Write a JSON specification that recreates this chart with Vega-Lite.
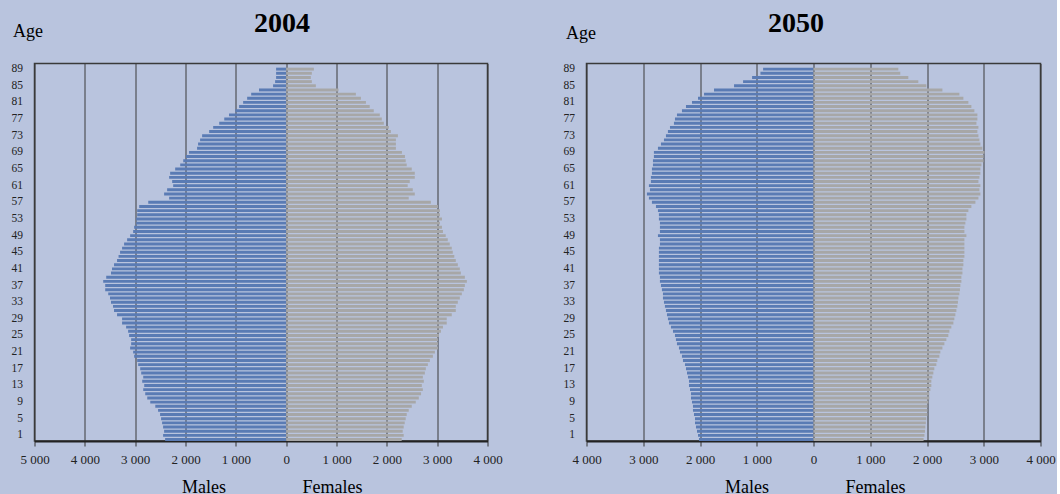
{
"$schema": "https://vega.github.io/schema/vega-lite/v6.json",
"background": "#b9c4de",
"padding": {"left": 9.5, "top": 7.5, "right": 0, "bottom": 0},
"autosize": {"type": "pad"},
"config": {
 "font": "Liberation Serif",
 "view": {"stroke": "#3a3a3a", "strokeWidth": 1.5},
 "axisY": {"titleAngle": 0, "titleX": -22, "titleY": -27.5, "titleAlign": "left", "titleBaseline": "alphabetic", "titleFontSize": 18, "titleFontWeight": "normal", "titleColor": "#000", "labelExpr": "(datum.value - 1) % 4 == 0 ? datum.value : ''", "labelFontSize": 11.5, "labelColor": "#222", "ticks": false, "domain": false, "labelPadding": 12, "labelOverlap": false, "grid": false},
 "axisX": {"grid": true, "gridColor": "#3a3a3a", "gridWidth": 1, "gridOpacity": 1, "domainColor": "#222", "domainWidth": 2, "tickColor": "#333", "tickSize": 5, "labelFontSize": 13, "labelColor": "#222", "labelPadding": 7, "labelFlush": false, "labelOverlap": false, "titleAlign": "left", "titleBaseline": "alphabetic", "titleFontSize": 18, "titleFontWeight": "normal", "titleColor": "#000", "titleY": 51.5, "labelExpr": "replace(format(abs(datum.value), ','), ',', ' ')"}
},
"datasets": {"pop": [
{"year":2004,"age":0,"sex":"Males","pop":-2405},{"year":2004,"age":1,"sex":"Males","pop":-2445},{"year":2004,"age":2,"sex":"Males","pop":-2425},{"year":2004,"age":3,"sex":"Males","pop":-2445},{"year":2004,"age":4,"sex":"Males","pop":-2465},{"year":2004,"age":5,"sex":"Males","pop":-2485},{"year":2004,"age":6,"sex":"Males","pop":-2505},{"year":2004,"age":7,"sex":"Males","pop":-2545},{"year":2004,"age":8,"sex":"Males","pop":-2600},{"year":2004,"age":9,"sex":"Males","pop":-2700},
{"year":2004,"age":10,"sex":"Males","pop":-2760},{"year":2004,"age":11,"sex":"Males","pop":-2800},{"year":2004,"age":12,"sex":"Males","pop":-2840},{"year":2004,"age":13,"sex":"Males","pop":-2820},{"year":2004,"age":14,"sex":"Males","pop":-2860},{"year":2004,"age":15,"sex":"Males","pop":-2840},{"year":2004,"age":16,"sex":"Males","pop":-2880},{"year":2004,"age":17,"sex":"Males","pop":-2900},{"year":2004,"age":18,"sex":"Males","pop":-2940},{"year":2004,"age":19,"sex":"Males","pop":-2960},
{"year":2004,"age":20,"sex":"Males","pop":-3020},{"year":2004,"age":21,"sex":"Males","pop":-3040},{"year":2004,"age":22,"sex":"Males","pop":-3100},{"year":2004,"age":23,"sex":"Males","pop":-3080},{"year":2004,"age":24,"sex":"Males","pop":-3080},{"year":2004,"age":25,"sex":"Males","pop":-3120},{"year":2004,"age":26,"sex":"Males","pop":-3140},{"year":2004,"age":27,"sex":"Males","pop":-3180},{"year":2004,"age":28,"sex":"Males","pop":-3260},{"year":2004,"age":29,"sex":"Males","pop":-3260},
{"year":2004,"age":30,"sex":"Males","pop":-3360},{"year":2004,"age":31,"sex":"Males","pop":-3420},{"year":2004,"age":32,"sex":"Males","pop":-3440},{"year":2004,"age":33,"sex":"Males","pop":-3480},{"year":2004,"age":34,"sex":"Males","pop":-3500},{"year":2004,"age":35,"sex":"Males","pop":-3535},{"year":2004,"age":36,"sex":"Males","pop":-3595},{"year":2004,"age":37,"sex":"Males","pop":-3595},{"year":2004,"age":38,"sex":"Males","pop":-3635},{"year":2004,"age":39,"sex":"Males","pop":-3575},
{"year":2004,"age":40,"sex":"Males","pop":-3480},{"year":2004,"age":41,"sex":"Males","pop":-3460},{"year":2004,"age":42,"sex":"Males","pop":-3420},{"year":2004,"age":43,"sex":"Males","pop":-3360},{"year":2004,"age":44,"sex":"Males","pop":-3330},{"year":2004,"age":45,"sex":"Males","pop":-3300},{"year":2004,"age":46,"sex":"Males","pop":-3260},{"year":2004,"age":47,"sex":"Males","pop":-3220},{"year":2004,"age":48,"sex":"Males","pop":-3160},{"year":2004,"age":49,"sex":"Males","pop":-3100},
{"year":2004,"age":50,"sex":"Males","pop":-3040},{"year":2004,"age":51,"sex":"Males","pop":-3020},{"year":2004,"age":52,"sex":"Males","pop":-2980},{"year":2004,"age":53,"sex":"Males","pop":-2980},{"year":2004,"age":54,"sex":"Males","pop":-2960},{"year":2004,"age":55,"sex":"Males","pop":-2960},{"year":2004,"age":56,"sex":"Males","pop":-2920},{"year":2004,"age":57,"sex":"Males","pop":-2740},{"year":2004,"age":58,"sex":"Males","pop":-2325},{"year":2004,"age":59,"sex":"Males","pop":-2425},
{"year":2004,"age":60,"sex":"Males","pop":-2365},{"year":2004,"age":61,"sex":"Males","pop":-2245},{"year":2004,"age":62,"sex":"Males","pop":-2265},{"year":2004,"age":63,"sex":"Males","pop":-2325},{"year":2004,"age":64,"sex":"Males","pop":-2305},{"year":2004,"age":65,"sex":"Males","pop":-2205},{"year":2004,"age":66,"sex":"Males","pop":-2105},{"year":2004,"age":67,"sex":"Males","pop":-2045},{"year":2004,"age":68,"sex":"Males","pop":-1990},{"year":2004,"age":69,"sex":"Males","pop":-1930},
{"year":2004,"age":70,"sex":"Males","pop":-1770},{"year":2004,"age":71,"sex":"Males","pop":-1750},{"year":2004,"age":72,"sex":"Males","pop":-1710},{"year":2004,"age":73,"sex":"Males","pop":-1670},{"year":2004,"age":74,"sex":"Males","pop":-1530},{"year":2004,"age":75,"sex":"Males","pop":-1450},{"year":2004,"age":76,"sex":"Males","pop":-1330},{"year":2004,"age":77,"sex":"Males","pop":-1230},{"year":2004,"age":78,"sex":"Males","pop":-1135},{"year":2004,"age":79,"sex":"Males","pop":-1010},
{"year":2004,"age":80,"sex":"Males","pop":-935},{"year":2004,"age":81,"sex":"Males","pop":-855},{"year":2004,"age":82,"sex":"Males","pop":-775},{"year":2004,"age":83,"sex":"Males","pop":-695},{"year":2004,"age":84,"sex":"Males","pop":-540},{"year":2004,"age":85,"sex":"Males","pop":-260},{"year":2004,"age":86,"sex":"Males","pop":-220},{"year":2004,"age":87,"sex":"Males","pop":-200},{"year":2004,"age":88,"sex":"Males","pop":-200},{"year":2004,"age":89,"sex":"Males","pop":-200},
{"year":2004,"age":0,"sex":"Females","pop":2295},{"year":2004,"age":1,"sex":"Females","pop":2335},{"year":2004,"age":2,"sex":"Females","pop":2315},{"year":2004,"age":3,"sex":"Females","pop":2335},{"year":2004,"age":4,"sex":"Females","pop":2355},{"year":2004,"age":5,"sex":"Females","pop":2375},{"year":2004,"age":6,"sex":"Females","pop":2395},{"year":2004,"age":7,"sex":"Females","pop":2435},{"year":2004,"age":8,"sex":"Females","pop":2495},{"year":2004,"age":9,"sex":"Females","pop":2575},
{"year":2004,"age":10,"sex":"Females","pop":2635},{"year":2004,"age":11,"sex":"Females","pop":2680},{"year":2004,"age":12,"sex":"Females","pop":2715},{"year":2004,"age":13,"sex":"Females","pop":2695},{"year":2004,"age":14,"sex":"Females","pop":2735},{"year":2004,"age":15,"sex":"Females","pop":2715},{"year":2004,"age":16,"sex":"Females","pop":2755},{"year":2004,"age":17,"sex":"Females","pop":2775},{"year":2004,"age":18,"sex":"Females","pop":2815},{"year":2004,"age":19,"sex":"Females","pop":2855},
{"year":2004,"age":20,"sex":"Females","pop":2915},{"year":2004,"age":21,"sex":"Females","pop":2955},{"year":2004,"age":22,"sex":"Females","pop":3015},{"year":2004,"age":23,"sex":"Females","pop":3015},{"year":2004,"age":24,"sex":"Females","pop":3015},{"year":2004,"age":25,"sex":"Females","pop":3035},{"year":2004,"age":26,"sex":"Females","pop":3075},{"year":2004,"age":27,"sex":"Females","pop":3115},{"year":2004,"age":28,"sex":"Females","pop":3190},{"year":2004,"age":29,"sex":"Females","pop":3190},
{"year":2004,"age":30,"sex":"Females","pop":3290},{"year":2004,"age":31,"sex":"Females","pop":3370},{"year":2004,"age":32,"sex":"Females","pop":3370},{"year":2004,"age":33,"sex":"Females","pop":3410},{"year":2004,"age":34,"sex":"Females","pop":3450},{"year":2004,"age":35,"sex":"Females","pop":3490},{"year":2004,"age":36,"sex":"Females","pop":3530},{"year":2004,"age":37,"sex":"Females","pop":3550},{"year":2004,"age":38,"sex":"Females","pop":3590},{"year":2004,"age":39,"sex":"Females","pop":3550},
{"year":2004,"age":40,"sex":"Females","pop":3470},{"year":2004,"age":41,"sex":"Females","pop":3450},{"year":2004,"age":42,"sex":"Females","pop":3410},{"year":2004,"age":43,"sex":"Females","pop":3370},{"year":2004,"age":44,"sex":"Females","pop":3340},{"year":2004,"age":45,"sex":"Females","pop":3310},{"year":2004,"age":46,"sex":"Females","pop":3290},{"year":2004,"age":47,"sex":"Females","pop":3250},{"year":2004,"age":48,"sex":"Females","pop":3210},{"year":2004,"age":49,"sex":"Females","pop":3170},
{"year":2004,"age":50,"sex":"Females","pop":3115},{"year":2004,"age":51,"sex":"Females","pop":3095},{"year":2004,"age":52,"sex":"Females","pop":3055},{"year":2004,"age":53,"sex":"Females","pop":3095},{"year":2004,"age":54,"sex":"Females","pop":3055},{"year":2004,"age":55,"sex":"Females","pop":3055},{"year":2004,"age":56,"sex":"Females","pop":3015},{"year":2004,"age":57,"sex":"Females","pop":2875},{"year":2004,"age":58,"sex":"Females","pop":2435},{"year":2004,"age":59,"sex":"Females","pop":2555},
{"year":2004,"age":60,"sex":"Females","pop":2515},{"year":2004,"age":61,"sex":"Females","pop":2415},{"year":2004,"age":62,"sex":"Females","pop":2455},{"year":2004,"age":63,"sex":"Females","pop":2555},{"year":2004,"age":64,"sex":"Females","pop":2555},{"year":2004,"age":65,"sex":"Females","pop":2495},{"year":2004,"age":66,"sex":"Females","pop":2395},{"year":2004,"age":67,"sex":"Females","pop":2375},{"year":2004,"age":68,"sex":"Females","pop":2360},{"year":2004,"age":69,"sex":"Females","pop":2300},
{"year":2004,"age":70,"sex":"Females","pop":2180},{"year":2004,"age":71,"sex":"Females","pop":2180},{"year":2004,"age":72,"sex":"Females","pop":2180},{"year":2004,"age":73,"sex":"Females","pop":2220},{"year":2004,"age":74,"sex":"Females","pop":2080},{"year":2004,"age":75,"sex":"Females","pop":2040},{"year":2004,"age":76,"sex":"Females","pop":1940},{"year":2004,"age":77,"sex":"Females","pop":1900},{"year":2004,"age":78,"sex":"Females","pop":1860},{"year":2004,"age":79,"sex":"Females","pop":1740},
{"year":2004,"age":80,"sex":"Females","pop":1660},{"year":2004,"age":81,"sex":"Females","pop":1585},{"year":2004,"age":82,"sex":"Females","pop":1485},{"year":2004,"age":83,"sex":"Females","pop":1385},{"year":2004,"age":84,"sex":"Females","pop":1040},{"year":2004,"age":85,"sex":"Females","pop":590},{"year":2004,"age":86,"sex":"Females","pop":510},{"year":2004,"age":87,"sex":"Females","pop":490},{"year":2004,"age":88,"sex":"Females","pop":510},{"year":2004,"age":89,"sex":"Females","pop":550},
{"year":2050,"age":0,"sex":"Males","pop":-2018},{"year":2050,"age":1,"sex":"Males","pop":-2035},{"year":2050,"age":2,"sex":"Males","pop":-2053},{"year":2050,"age":3,"sex":"Males","pop":-2071},{"year":2050,"age":4,"sex":"Males","pop":-2088},{"year":2050,"age":5,"sex":"Males","pop":-2088},{"year":2050,"age":6,"sex":"Males","pop":-2106},{"year":2050,"age":7,"sex":"Males","pop":-2124},{"year":2050,"age":8,"sex":"Males","pop":-2124},{"year":2050,"age":9,"sex":"Males","pop":-2141},
{"year":2050,"age":10,"sex":"Males","pop":-2159},{"year":2050,"age":11,"sex":"Males","pop":-2159},{"year":2050,"age":12,"sex":"Males","pop":-2176},{"year":2050,"age":13,"sex":"Males","pop":-2194},{"year":2050,"age":14,"sex":"Males","pop":-2194},{"year":2050,"age":15,"sex":"Males","pop":-2212},{"year":2050,"age":16,"sex":"Males","pop":-2229},{"year":2050,"age":17,"sex":"Males","pop":-2247},{"year":2050,"age":18,"sex":"Males","pop":-2265},{"year":2050,"age":19,"sex":"Males","pop":-2300},
{"year":2050,"age":20,"sex":"Males","pop":-2318},{"year":2050,"age":21,"sex":"Males","pop":-2353},{"year":2050,"age":22,"sex":"Males","pop":-2371},{"year":2050,"age":23,"sex":"Males","pop":-2406},{"year":2050,"age":24,"sex":"Males","pop":-2424},{"year":2050,"age":25,"sex":"Males","pop":-2441},{"year":2050,"age":26,"sex":"Males","pop":-2476},{"year":2050,"age":27,"sex":"Males","pop":-2512},{"year":2050,"age":28,"sex":"Males","pop":-2547},{"year":2050,"age":29,"sex":"Males","pop":-2565},
{"year":2050,"age":30,"sex":"Males","pop":-2582},{"year":2050,"age":31,"sex":"Males","pop":-2600},{"year":2050,"age":32,"sex":"Males","pop":-2618},{"year":2050,"age":33,"sex":"Males","pop":-2635},{"year":2050,"age":34,"sex":"Males","pop":-2653},{"year":2050,"age":35,"sex":"Males","pop":-2653},{"year":2050,"age":36,"sex":"Males","pop":-2671},{"year":2050,"age":37,"sex":"Males","pop":-2688},{"year":2050,"age":38,"sex":"Males","pop":-2706},{"year":2050,"age":39,"sex":"Males","pop":-2706},
{"year":2050,"age":40,"sex":"Males","pop":-2724},{"year":2050,"age":41,"sex":"Males","pop":-2724},{"year":2050,"age":42,"sex":"Males","pop":-2724},{"year":2050,"age":43,"sex":"Males","pop":-2724},{"year":2050,"age":44,"sex":"Males","pop":-2724},{"year":2050,"age":45,"sex":"Males","pop":-2724},{"year":2050,"age":46,"sex":"Males","pop":-2724},{"year":2050,"age":47,"sex":"Males","pop":-2706},{"year":2050,"age":48,"sex":"Males","pop":-2706},{"year":2050,"age":49,"sex":"Males","pop":-2741},
{"year":2050,"age":50,"sex":"Males","pop":-2706},{"year":2050,"age":51,"sex":"Males","pop":-2706},{"year":2050,"age":52,"sex":"Males","pop":-2706},{"year":2050,"age":53,"sex":"Males","pop":-2724},{"year":2050,"age":54,"sex":"Males","pop":-2724},{"year":2050,"age":55,"sex":"Males","pop":-2741},{"year":2050,"age":56,"sex":"Males","pop":-2776},{"year":2050,"age":57,"sex":"Males","pop":-2847},{"year":2050,"age":58,"sex":"Males","pop":-2900},{"year":2050,"age":59,"sex":"Males","pop":-2935},
{"year":2050,"age":60,"sex":"Males","pop":-2882},{"year":2050,"age":61,"sex":"Males","pop":-2900},{"year":2050,"age":62,"sex":"Males","pop":-2865},{"year":2050,"age":63,"sex":"Males","pop":-2865},{"year":2050,"age":64,"sex":"Males","pop":-2847},{"year":2050,"age":65,"sex":"Males","pop":-2847},{"year":2050,"age":66,"sex":"Males","pop":-2829},{"year":2050,"age":67,"sex":"Males","pop":-2829},{"year":2050,"age":68,"sex":"Males","pop":-2812},{"year":2050,"age":69,"sex":"Males","pop":-2812},
{"year":2050,"age":70,"sex":"Males","pop":-2741},{"year":2050,"age":71,"sex":"Males","pop":-2688},{"year":2050,"age":72,"sex":"Males","pop":-2635},{"year":2050,"age":73,"sex":"Males","pop":-2600},{"year":2050,"age":74,"sex":"Males","pop":-2565},{"year":2050,"age":75,"sex":"Males","pop":-2529},{"year":2050,"age":76,"sex":"Males","pop":-2459},{"year":2050,"age":77,"sex":"Males","pop":-2441},{"year":2050,"age":78,"sex":"Males","pop":-2406},{"year":2050,"age":79,"sex":"Males","pop":-2318},
{"year":2050,"age":80,"sex":"Males","pop":-2247},{"year":2050,"age":81,"sex":"Males","pop":-2141},{"year":2050,"age":82,"sex":"Males","pop":-2035},{"year":2050,"age":83,"sex":"Males","pop":-1929},{"year":2050,"age":84,"sex":"Males","pop":-1753},{"year":2050,"age":85,"sex":"Males","pop":-1400},{"year":2050,"age":86,"sex":"Males","pop":-1241},{"year":2050,"age":87,"sex":"Males","pop":-1082},{"year":2050,"age":88,"sex":"Males","pop":-935},{"year":2050,"age":89,"sex":"Males","pop":-888},
{"year":2050,"age":0,"sex":"Females","pop":1940},{"year":2050,"age":1,"sex":"Females","pop":1955},{"year":2050,"age":2,"sex":"Females","pop":1965},{"year":2050,"age":3,"sex":"Females","pop":1971},{"year":2050,"age":4,"sex":"Females","pop":1980},{"year":2050,"age":5,"sex":"Females","pop":1988},{"year":2050,"age":6,"sex":"Females","pop":2006},{"year":2050,"age":7,"sex":"Females","pop":2006},{"year":2050,"age":8,"sex":"Females","pop":2006},{"year":2050,"age":9,"sex":"Females","pop":2024},
{"year":2050,"age":10,"sex":"Females","pop":2041},{"year":2050,"age":11,"sex":"Females","pop":2041},{"year":2050,"age":12,"sex":"Females","pop":2059},{"year":2050,"age":13,"sex":"Females","pop":2076},{"year":2050,"age":14,"sex":"Females","pop":2076},{"year":2050,"age":15,"sex":"Females","pop":2094},{"year":2050,"age":16,"sex":"Females","pop":2112},{"year":2050,"age":17,"sex":"Females","pop":2129},{"year":2050,"age":18,"sex":"Females","pop":2165},{"year":2050,"age":19,"sex":"Females","pop":2182},
{"year":2050,"age":20,"sex":"Females","pop":2218},{"year":2050,"age":21,"sex":"Females","pop":2235},{"year":2050,"age":22,"sex":"Females","pop":2271},{"year":2050,"age":23,"sex":"Females","pop":2306},{"year":2050,"age":24,"sex":"Females","pop":2341},{"year":2050,"age":25,"sex":"Females","pop":2376},{"year":2050,"age":26,"sex":"Females","pop":2394},{"year":2050,"age":27,"sex":"Females","pop":2429},{"year":2050,"age":28,"sex":"Females","pop":2465},{"year":2050,"age":29,"sex":"Females","pop":2482},
{"year":2050,"age":30,"sex":"Females","pop":2500},{"year":2050,"age":31,"sex":"Females","pop":2518},{"year":2050,"age":32,"sex":"Females","pop":2535},{"year":2050,"age":33,"sex":"Females","pop":2545},{"year":2050,"age":34,"sex":"Females","pop":2553},{"year":2050,"age":35,"sex":"Females","pop":2571},{"year":2050,"age":36,"sex":"Females","pop":2580},{"year":2050,"age":37,"sex":"Females","pop":2588},{"year":2050,"age":38,"sex":"Females","pop":2606},{"year":2050,"age":39,"sex":"Females","pop":2606},
{"year":2050,"age":40,"sex":"Females","pop":2624},{"year":2050,"age":41,"sex":"Females","pop":2624},{"year":2050,"age":42,"sex":"Females","pop":2641},{"year":2050,"age":43,"sex":"Females","pop":2641},{"year":2050,"age":44,"sex":"Females","pop":2659},{"year":2050,"age":45,"sex":"Females","pop":2659},{"year":2050,"age":46,"sex":"Females","pop":2659},{"year":2050,"age":47,"sex":"Females","pop":2659},{"year":2050,"age":48,"sex":"Females","pop":2659},{"year":2050,"age":49,"sex":"Females","pop":2694},
{"year":2050,"age":50,"sex":"Females","pop":2659},{"year":2050,"age":51,"sex":"Females","pop":2659},{"year":2050,"age":52,"sex":"Females","pop":2676},{"year":2050,"age":53,"sex":"Females","pop":2694},{"year":2050,"age":54,"sex":"Females","pop":2694},{"year":2050,"age":55,"sex":"Females","pop":2729},{"year":2050,"age":56,"sex":"Females","pop":2782},{"year":2050,"age":57,"sex":"Females","pop":2853},{"year":2050,"age":58,"sex":"Females","pop":2906},{"year":2050,"age":59,"sex":"Females","pop":2941},
{"year":2050,"age":60,"sex":"Females","pop":2924},{"year":2050,"age":61,"sex":"Females","pop":2941},{"year":2050,"age":62,"sex":"Females","pop":2906},{"year":2050,"age":63,"sex":"Females","pop":2924},{"year":2050,"age":64,"sex":"Females","pop":2941},{"year":2050,"age":65,"sex":"Females","pop":2941},{"year":2050,"age":66,"sex":"Females","pop":2959},{"year":2050,"age":67,"sex":"Females","pop":2994},{"year":2050,"age":68,"sex":"Females","pop":2994},{"year":2050,"age":69,"sex":"Females","pop":3012},
{"year":2050,"age":70,"sex":"Females","pop":2976},{"year":2050,"age":71,"sex":"Females","pop":2941},{"year":2050,"age":72,"sex":"Females","pop":2924},{"year":2050,"age":73,"sex":"Females","pop":2906},{"year":2050,"age":74,"sex":"Females","pop":2888},{"year":2050,"age":75,"sex":"Females","pop":2906},{"year":2050,"age":76,"sex":"Females","pop":2871},{"year":2050,"age":77,"sex":"Females","pop":2888},{"year":2050,"age":78,"sex":"Females","pop":2888},{"year":2050,"age":79,"sex":"Females","pop":2835},
{"year":2050,"age":80,"sex":"Females","pop":2782},{"year":2050,"age":81,"sex":"Females","pop":2729},{"year":2050,"age":82,"sex":"Females","pop":2641},{"year":2050,"age":83,"sex":"Females","pop":2571},{"year":2050,"age":84,"sex":"Females","pop":2271},{"year":2050,"age":85,"sex":"Females","pop":1988},{"year":2050,"age":86,"sex":"Females","pop":1847},{"year":2050,"age":87,"sex":"Females","pop":1671},{"year":2050,"age":88,"sex":"Females","pop":1529},{"year":2050,"age":89,"sex":"Females","pop":1494}
]},
"data": {"name": "pop"},
"bounds": "flush",
"spacing": 99,
"hconcat": [
 {
  "width": 453, "height": 377.5,
  "transform": [{"filter": "datum.year == 2004"}],
  "resolve": {"axis": {"x": "independent"}},
  "layer": [
   {
    "mark": {"type": "bar"},
    "encoding": {
     "y": {"field": "age", "type": "ordinal", "scale": {"domain": [90,89,88,87,86,85,84,83,82,81,80,79,78,77,76,75,74,73,72,71,70,69,68,67,66,65,64,63,62,61,60,59,58,57,56,55,54,53,52,51,50,49,48,47,46,45,44,43,42,41,40,39,38,37,36,35,34,33,32,31,30,29,28,27,26,25,24,23,22,21,20,19,18,17,16,15,14,13,12,11,10,9,8,7,6,5,4,3,2,1,0], "paddingInner": 0.3, "paddingOuter": 0}, "axis": {"title": "Age"}},
     "x": {"field": "pop", "type": "quantitative", "stack": null, "scale": {"domain": [-5000, 4000], "nice": false}, "axis": {"values": [-5000,-4000,-3000,-2000,-1000,0,1000,2000,3000,4000], "title": "Males\u00a0\u00a0\u00a0\u00a0\u00a0\u00a0\u00a0\u00a0\u00a0\u00a0\u00a0\u00a0\u00a0\u00a0\u00a0\u00a0\u00a0Females", "titleX": 147}},
     "color": {"field": "sex", "type": "nominal", "scale": {"domain": ["Males", "Females"], "range": ["#5a7bb4", "#a7a7a7"]}, "legend": null}
    }
   },
   {
    "mark": {"type": "rule", "opacity": 0},
    "encoding": {
     "x": {"field": "pop", "type": "quantitative", "axis": {"orient": "top", "labels": false, "ticks": false, "domain": false, "grid": false, "title": "2004", "titleX": 247, "titleY": -32.5, "titleAlign": "center", "titleBaseline": "alphabetic", "titleFontSize": 28, "titleFontWeight": "bold", "titleColor": "#000"}}
    }
   }
  ]
 },
 {
  "width": 454, "height": 377.5,
  "transform": [{"filter": "datum.year == 2050"}],
  "resolve": {"axis": {"x": "independent"}},
  "layer": [
   {
    "mark": {"type": "bar"},
    "encoding": {
     "y": {"field": "age", "type": "ordinal", "scale": {"domain": [90,89,88,87,86,85,84,83,82,81,80,79,78,77,76,75,74,73,72,71,70,69,68,67,66,65,64,63,62,61,60,59,58,57,56,55,54,53,52,51,50,49,48,47,46,45,44,43,42,41,40,39,38,37,36,35,34,33,32,31,30,29,28,27,26,25,24,23,22,21,20,19,18,17,16,15,14,13,12,11,10,9,8,7,6,5,4,3,2,1,0], "paddingInner": 0.3, "paddingOuter": 0}, "axis": {"title": "Age", "titleX": -21, "titleY": -25}},
     "x": {"field": "pop", "type": "quantitative", "stack": null, "scale": {"domain": [-4000, 4000], "nice": false}, "axis": {"values": [-4000,-3000,-2000,-1000,0,1000,2000,3000,4000], "title": "Males\u00a0\u00a0\u00a0\u00a0\u00a0\u00a0\u00a0\u00a0\u00a0\u00a0\u00a0\u00a0\u00a0\u00a0\u00a0\u00a0\u00a0Females", "titleX": 138}},
     "color": {"field": "sex", "type": "nominal", "scale": {"domain": ["Males", "Females"], "range": ["#5a7bb4", "#a7a7a7"]}, "legend": null}
    }
   },
   {
    "mark": {"type": "rule", "opacity": 0},
    "encoding": {
     "x": {"field": "pop", "type": "quantitative", "axis": {"orient": "top", "labels": false, "ticks": false, "domain": false, "grid": false, "title": "2050", "titleX": 209, "titleY": -32.5, "titleAlign": "center", "titleBaseline": "alphabetic", "titleFontSize": 28, "titleFontWeight": "bold", "titleColor": "#000"}}
    }
   }
  ]
 }
]
}
